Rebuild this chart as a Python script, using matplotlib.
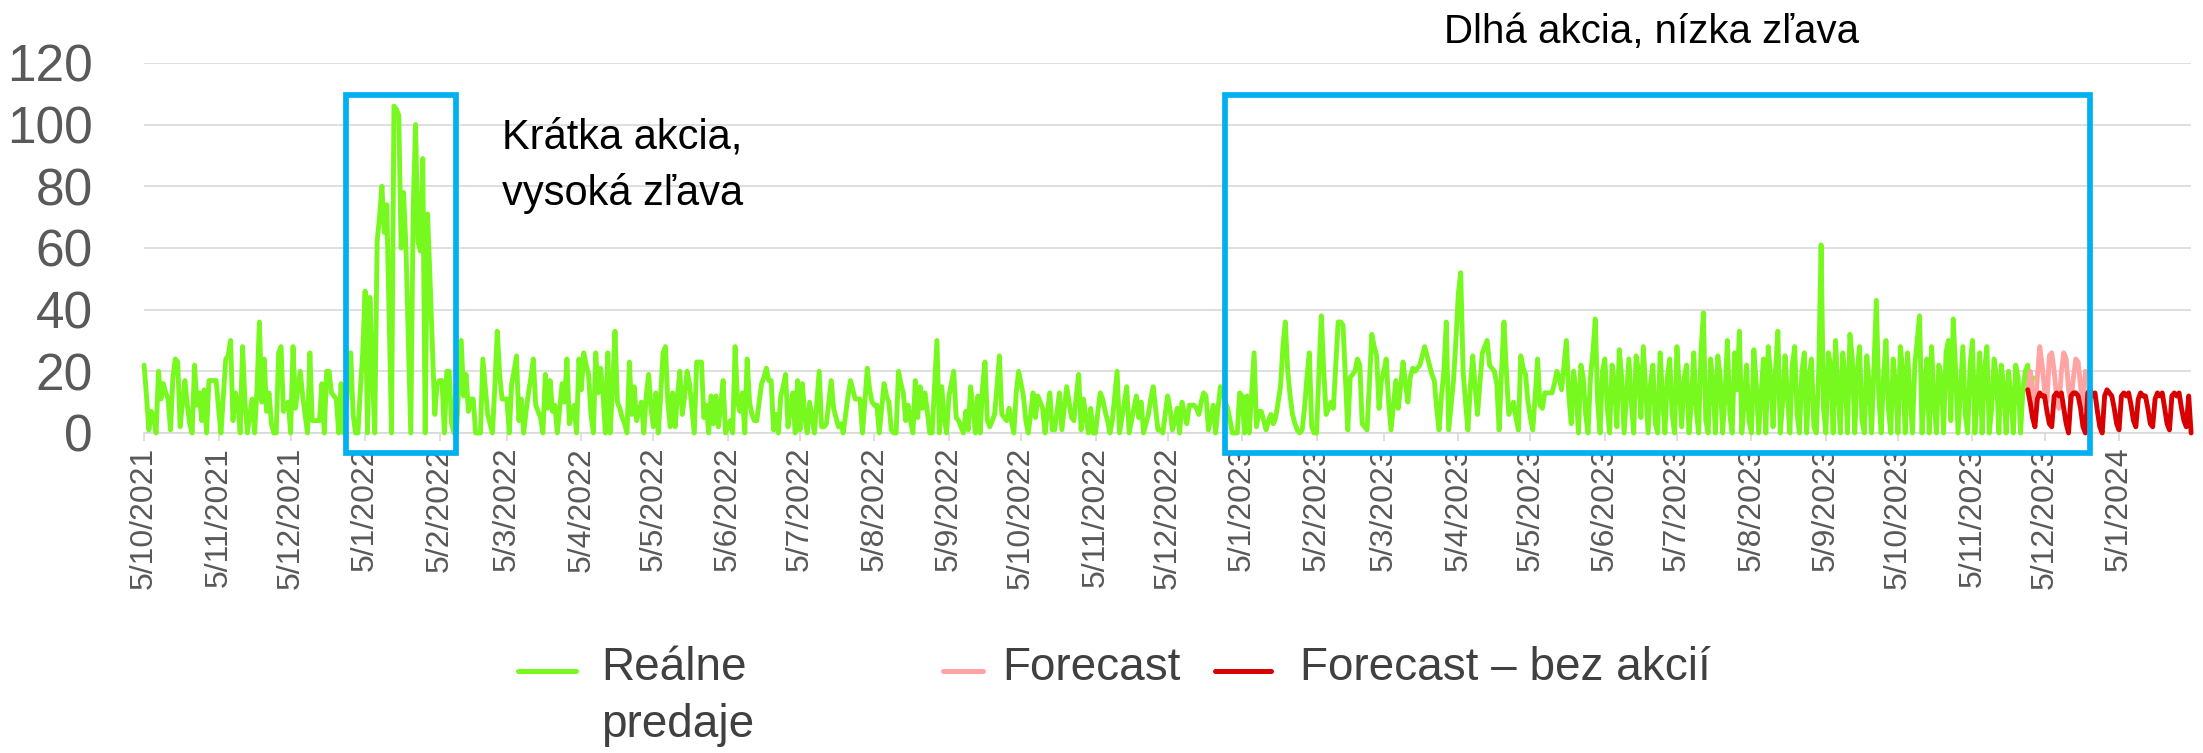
import pandas as pd
import matplotlib
matplotlib.use('Agg')
import matplotlib.pyplot as plt
import matplotlib.dates as mdates
from matplotlib.lines import Line2D
from matplotlib.patches import Rectangle
from matplotlib.ticker import FuncFormatter

plt.rcParams['font.family'] = ['Liberation Sans', 'DejaVu Sans']

# denne realne predaje od 5/10/2021
start_real = '2021-10-05'
sales_oct21_mar22 = [
    22, 12, 1, 7, 5, 0, 20, 11, 16, 13,
    11, 1, 18, 24, 23, 2, 10, 17, 9, 3,
    0, 22, 9, 13, 4, 14, 0, 17, 17, 17,
    17, 8, 0, 12, 24, 25, 30, 4, 13, 10,
    0, 28, 10, 0, 6, 11, 0, 14, 36, 10,
    24, 7, 13, 3, 0, 0, 26, 28, 7, 9,
    10, 0, 28, 8, 14, 20, 12, 6, 0, 26,
    4, 4, 4, 4, 16, 0, 20, 20, 13, 12,
    11, 0, 16, 0, 8, 17, 26, 6, 0, 0,
    14, 26, 46, 0, 44, 20, 0, 62, 70, 80,
    65, 74, 38, 0, 106, 105, 103, 60, 78, 60,
    30, 0, 72, 100, 62, 59, 89, 0, 71, 50,
    28, 6, 16, 17, 17, 0, 20, 20, 3, 0,
    0, 15, 30, 12, 19, 7, 11, 11, 0, 0,
    0, 24, 15, 6, 3, 0, 15, 33, 19, 11,
    11, 11, 0, 16, 20, 25]
sales_mar22_sep22 = [
    4, 11, 0, 7, 13, 18, 24, 9, 7, 5,
    0, 19, 8, 17, 7, 9, 0, 8, 16, 10,
    24, 3, 6, 9, 0, 24, 14, 26, 22, 19,
    6, 0, 26, 13, 21, 13, 0, 26, 0, 15,
    33, 10, 8, 5, 3, 0, 23, 6, 15, 4,
    7, 10, 0, 12, 19, 8, 2, 13, 0, 12,
    26, 28, 10, 2, 13, 2, 12, 20, 6, 12,
    20, 16, 8, 0, 23, 23, 23, 5, 9, 0,
    12, 3, 12, 2, 9, 17, 0, 2, 4, 0,
    28, 10, 7, 13, 0, 24, 10, 6, 4, 4,
    10, 16, 18, 21, 17, 17, 1, 6, 0, 12,
    15, 19, 2, 8, 13, 0, 17, 1, 16, 5,
    0, 10, 5, 0, 10, 20, 2, 2, 3, 10,
    17, 8, 5, 2, 3, 0, 6, 12, 17, 14,
    11, 11, 11, 0, 10, 21, 14, 10, 9, 9,
    0, 8, 16, 12, 10]
sales_aug22_jan23 = [
    1, 0, 0, 20, 16, 13, 4, 9, 4, 0,
    17, 5, 15, 8, 13, 7, 0, 0, 15, 30,
    0, 15, 5, 0, 12, 16, 20, 5, 4, 2,
    0, 7, 1, 15, 8, 0, 12, 0, 15, 23,
    4, 2, 4, 6, 15, 25, 6, 5, 4, 8,
    4, 0, 13, 20, 16, 12, 4, 0, 6, 13,
    5, 12, 10, 8, 0, 7, 13, 1, 1, 7,
    13, 1, 8, 15, 10, 5, 4, 12, 19, 1,
    11, 5, 0, 8, 0, 0, 7, 13, 11, 7,
    4, 0, 4, 12, 20, 0, 5, 10, 15, 0,
    4, 8, 12, 5, 10, 0, 3, 6, 11, 15,
    8, 1, 1, 0, 6, 12, 8, 1, 4, 8,
    0, 10, 6, 3, 9, 9, 9, 8, 6, 10,
    13, 12, 1, 5, 9, 0, 8, 15, 13, 10,
    8, 4, 0, 0, 0, 13, 12, 0, 12, 0,
    13, 26, 2]
sales_jan23_may23 = [
    7, 7, 4, 1, 4, 6, 3, 5, 10, 15,
    28, 36, 20, 12, 6, 3, 1, 0, 1, 8,
    18, 26, 2, 0, 0, 20, 38, 20, 6, 8,
    10, 8, 22, 36, 36, 35, 18, 1, 18, 19,
    20, 24, 22, 3, 2, 1, 16, 32, 28, 25,
    8, 17, 20, 24, 10, 1, 9, 17, 8, 15,
    23, 16, 10, 18, 21, 20, 21, 22, 25, 28,
    25, 22, 19, 17, 8, 1, 12, 20, 36, 1,
    9, 17, 30, 45, 52, 20, 10, 1, 15, 25,
    15, 6, 16, 26, 28, 30, 22, 21, 20, 16,
    1, 20, 36, 20, 6, 8, 10, 5, 1, 25,
    21, 19, 10, 5, 1, 12, 24, 9, 8, 13,
    13, 13, 13, 16, 20, 18, 14, 22, 30]
sales_may23_nov23 = [
    12, 3, 20, 14, 0, 22, 18, 6, 0, 18,
    26, 37, 10, 0, 20, 24, 8, 0, 22, 16,
    2, 27, 18, 0, 12, 24, 10, 0, 25, 20,
    5, 28, 14, 0, 16, 22, 3, 0, 26, 12,
    0, 18, 24, 6, 0, 28, 14, 2, 18, 22,
    0, 10, 26, 8, 0, 26, 39, 4, 0, 24,
    16, 0, 25, 18, 0, 12, 30, 6, 0, 26,
    14, 33, 0, 10, 22, 4, 0, 27, 16, 0,
    12, 24, 0, 28, 18, 2, 20, 33, 0, 10,
    25, 12, 0, 22, 28, 6, 0, 20, 26, 0,
    18, 24, 2, 0, 20, 61, 8, 0, 26, 22,
    0, 30, 14, 0, 26, 18, 0, 32, 24, 0,
    20, 28, 4, 0, 25, 16, 0, 22, 43, 12,
    0, 18, 30, 8, 0, 24, 15, 0, 28, 20,
    0, 26, 12, 0, 22, 30, 38, 0, 14, 24,
    0, 28, 10, 0, 22, 18, 0, 26, 30, 4,
    37, 20, 0, 14, 28, 6, 0, 22, 30, 0,
    12, 26, 0, 20, 28, 0, 8, 24, 18, 0,
    22, 15, 0, 20, 12, 0, 22, 18, 0, 14,
    20, 22, 12, 18]

# forecasty od 28/11/2023
start_fc = '2023-11-28'
forecast = [14, 20, 12, 8, 18, 28, 22, 14, 10, 25, 26, 20, 12, 8, 20, 26,
            24, 14, 10, 18, 24, 23, 15, 8, 20]
forecast_no_promo = [
    14, 10, 5, 2, 11, 13, 12,
    12, 7, 3, 2, 12, 13, 12,
    13, 8, 3, 0, 12, 13, 13,
    12, 8, 2, 0, 13, 14, 12,
    13, 7, 2, 0, 12, 14, 13,
    12, 8, 3, 1, 12, 13, 12,
    13, 9, 4, 2, 11, 13, 12,
    12, 8, 3, 2, 11, 13, 12,
    13, 8, 3, 1, 12, 13, 12,
    13, 8, 4, 2, 12, 0]

# akcie (obdlzniky)
promo_boxes = [('2021-12-28', '2022-02-12'), ('2022-12-29', '2023-12-24')]
box_top = 109.6
box_bottom = -6.5

real_sales = (sales_oct21_mar22 + sales_mar22_sep22 + sales_aug22_jan23
              + sales_jan23_may23 + sales_may23_nov23)
real_dates = pd.date_range(start_real, periods=len(real_sales), freq='D')
fc_dates = pd.date_range(start_fc, periods=len(forecast), freq='D')
fc_np_dates = pd.date_range(start_fc, periods=len(forecast_no_promo), freq='D')

GREEN = '#77F81E'
PINK = '#FFA3A3'
RED = '#D90000'
BLUE = '#00B0F0'
GRID = '#D9D9D9'
LABEL = '#595959'

fig = plt.figure(figsize=(22.03, 7.53), dpi=100)
ax = fig.add_axes([0.0654, 0.425, 0.9292, 0.4914])

line_kw = dict(lw=3.5, solid_joinstyle='round', solid_capstyle='round', clip_on=False)
ax.plot(real_dates, real_sales, color=GREEN, zorder=3, **line_kw)
ax.plot(fc_dates, forecast, color=PINK, zorder=3, **line_kw)
ax.plot(fc_np_dates, forecast_no_promo, color=RED, zorder=4, **line_kw)

for a, b in promo_boxes:
    x0 = mdates.date2num(pd.Timestamp(a))
    x1 = mdates.date2num(pd.Timestamp(b))
    ax.add_patch(Rectangle((x0, box_bottom), x1 - x0, box_top - box_bottom,
                           fill=False, edgecolor=BLUE, lw=4.1, clip_on=False, zorder=5))

ax.set_xlim(real_dates[0], fc_np_dates[-1])
ax.set_ylim(0, 120)
ax.set_yticks(range(0, 121, 20))
ax.grid(axis='y', color=GRID, lw=1.2)
ax.set_axisbelow(True)

def fmt_date(v, pos):
    d = mdates.num2date(v)
    return f'{d.day}/{d.month}/{d.year}'

ax.xaxis.set_major_locator(mdates.MonthLocator(bymonthday=5))
ax.xaxis.set_major_formatter(FuncFormatter(fmt_date))
ax.tick_params(axis='x', labelrotation=90, labelsize=23, labelcolor=LABEL,
               color=GRID, length=6, width=1.2, pad=4)
ax.tick_params(axis='y', length=0, pad=37, labelsize=37, labelcolor=LABEL)
for s in ['top', 'right', 'left']:
    ax.spines[s].set_visible(False)
ax.spines['bottom'].set_color(GRID)
ax.spines['bottom'].set_linewidth(1.2)

ax.text(pd.Timestamp('2022-03-03'), 92.3, 'Krátka akcia,', fontsize=30, va='baseline')
ax.text(pd.Timestamp('2022-03-03'), 74, 'vysoká zľava', fontsize=30, va='baseline')
ax.text(pd.Timestamp('2023-03-30'), 126.4, 'Dlhá akcia, nízka zľava', fontsize=29, va='baseline')

# legenda dole
W, H = 2203, 753
legend_items = [(GREEN, 518, 576, 601, 'Reálne\npredaje'),
                (PINK, 943, 983, 1002, 'Forecast'),
                (RED, 1215, 1271, 1300, 'Forecast – bez akcií')]
for col, lx0, lx1, tx, label in legend_items:
    fig.add_artist(Line2D([lx0 / W, lx1 / W], [1 - 671 / H] * 2, transform=fig.transFigure,
                          color=col, lw=3.6, solid_capstyle='round'))
    for i, part in enumerate(label.split('\n')):
        fig.text(tx / W, 1 - (680 + 56.7 * i) / H, part, fontsize=33,
                 color='#404040', va='baseline')

fig.savefig('out.png', dpi=100)
